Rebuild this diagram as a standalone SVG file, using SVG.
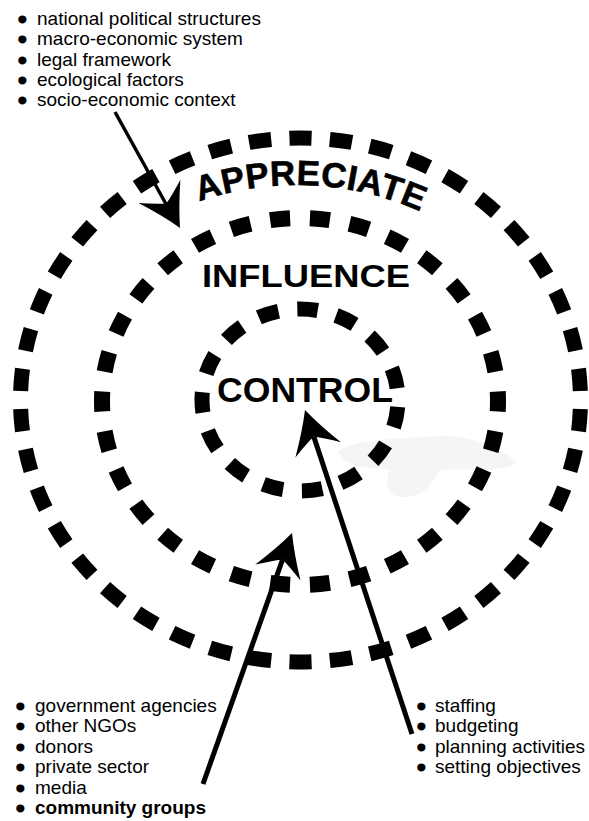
<svg xmlns="http://www.w3.org/2000/svg" xmlns:xlink="http://www.w3.org/1999/xlink" width="589" height="821" viewBox="0 0 589 821">
<style>
.ring{fill:none;stroke:#000;stroke-linecap:butt}
.lst{font-family:"Liberation Sans",Arial,Helvetica,sans-serif;font-size:19px;fill:#000}
.b{stroke:#000;stroke-width:3;stroke-linejoin:round}
.big{font-family:"Liberation Sans",Arial,Helvetica,sans-serif;font-weight:bold;fill:#000}
.shaft{stroke:#000;fill:none;stroke-linecap:butt}
</style>
<defs>
<path id="ah" d="M0,0 Q-19,9 -42,24 Q-33,10 -28,0 Q-33,-10 -42,-24 Q-19,-9 0,0 Z" fill="#000"/>
<path id="arcA" d="M 180 208.8 A 300 300 0 0 1 440 221.3" fill="none"/>
</defs>
<rect width="589" height="821" fill="#fff"/>
<path id="smudge" d="M338,452 C350,440 400,438 440,436 C470,435 500,448 517,462 C505,474 470,468 440,470 C430,485 425,498 400,497 C385,495 385,480 390,470 C370,468 345,468 338,452 Z" fill="#f5f5f5"/>

<g id="ring-appreciate">
<ellipse class="ring" cx="300.5" cy="400" rx="280" ry="262" stroke-width="15" pathLength="42" stroke-dasharray="0.55 0.45" stroke-dashoffset="0.775"/>
<text class="big" font-size="35" letter-spacing="0.4" stroke="#000" stroke-width="0.6"><textPath href="#arcA" xlink:href="#arcA" startOffset="134" text-anchor="middle">APPRECIATE</textPath></text>
</g>

<g id="ring-influence">
<ellipse class="ring" cx="300" cy="401.5" rx="198" ry="183.5" stroke-width="16" pathLength="30" stroke-dasharray="0.5 0.5" stroke-dashoffset="0.25"/>
<text class="big" x="202" y="287" font-size="32" textLength="208" lengthAdjust="spacingAndGlyphs">INFLUENCE</text>
</g>

<g id="ring-control">
<ellipse class="ring" cx="300" cy="400" rx="98" ry="91" stroke-width="15" pathLength="15" stroke-dasharray="0.52 0.48" stroke-dashoffset="0.82"/>
<text class="big" x="217" y="402" font-size="35" textLength="176" lengthAdjust="spacingAndGlyphs">CONTROL</text>
</g>

<g id="list-context">
<text class="lst" y="25"><tspan class="b" x="19" dy="1">•</tspan><tspan x="37" dy="-1">national political structures</tspan></text>
<text class="lst" y="45.3"><tspan class="b" x="19" dy="1">•</tspan><tspan x="37" dy="-1">macro-economic system</tspan></text>
<text class="lst" y="65.6"><tspan class="b" x="19" dy="1">•</tspan><tspan x="37" dy="-1">legal framework</tspan></text>
<text class="lst" y="85.9"><tspan class="b" x="19" dy="1">•</tspan><tspan x="37" dy="-1">ecological factors</tspan></text>
<text class="lst" y="106.2"><tspan class="b" x="19" dy="1">•</tspan><tspan x="37" dy="-1">socio-economic context</tspan></text>
</g>

<g id="list-stakeholders">
<text class="lst" y="711.5"><tspan class="b" x="17" dy="1">•</tspan><tspan x="35" dy="-1">government agencies</tspan></text>
<text class="lst" y="732.1"><tspan class="b" x="17" dy="1">•</tspan><tspan x="35" dy="-1">other NGOs</tspan></text>
<text class="lst" y="752.7"><tspan class="b" x="17" dy="1">•</tspan><tspan x="35" dy="-1">donors</tspan></text>
<text class="lst" y="773.3"><tspan class="b" x="17" dy="1">•</tspan><tspan x="35" dy="-1">private sector</tspan></text>
<text class="lst" y="793.9"><tspan class="b" x="17" dy="1">•</tspan><tspan x="35" dy="-1">media</tspan></text>
<text class="lst" y="814.2"><tspan class="b" x="17" dy="1">•</tspan><tspan x="35" dy="-1" font-weight="bold">community groups</tspan></text>
</g>

<g id="list-internal">
<text class="lst" y="712"><tspan class="b" x="418" dy="1">•</tspan><tspan x="435" dy="-1">staffing</tspan></text>
<text class="lst" y="732.4"><tspan class="b" x="418" dy="1">•</tspan><tspan x="435" dy="-1">budgeting</tspan></text>
<text class="lst" y="752.8"><tspan class="b" x="418" dy="1">•</tspan><tspan x="435" dy="-1">planning activities</tspan></text>
<text class="lst" y="773.2"><tspan class="b" x="418" dy="1">•</tspan><tspan x="435" dy="-1">setting objectives</tspan></text>
</g>

<g id="connectors">
<line class="shaft" x1="115" y1="112" x2="166" y2="204" stroke-width="3.5"/>
<use href="#ah" xlink:href="#ah" transform="translate(180,228) rotate(60.7)"/>
<line class="shaft" x1="203" y1="784" x2="282.6" y2="559.4" stroke-width="5"/>
<use href="#ah" xlink:href="#ah" transform="translate(292,533) rotate(-70.4)"/>
<line class="shaft" x1="412" y1="734" x2="313.8" y2="436.6" stroke-width="5"/>
<use href="#ah" xlink:href="#ah" transform="translate(305,410) rotate(-108.3)"/>
</g>
</svg>
